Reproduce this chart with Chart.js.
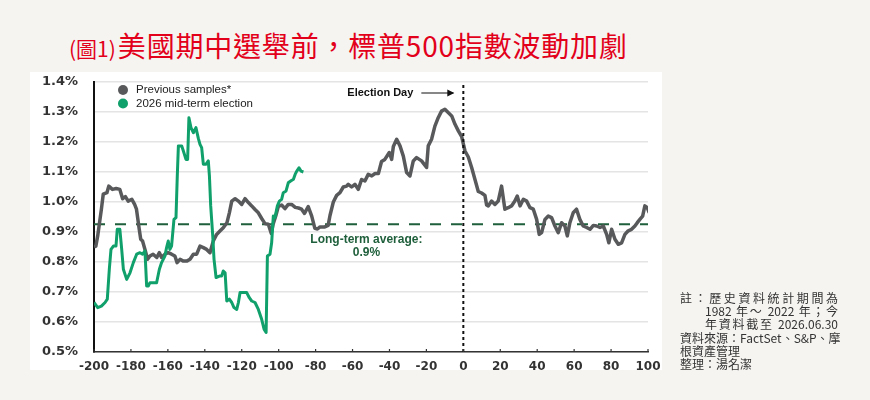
<!DOCTYPE html>
<html>
<head>
<meta charset="utf-8">
<script src="https://cdn.jsdelivr.net/npm/chart.js@4.4.1/dist/chart.umd.min.js"></script>
<style>
  body { margin: 0; width: 870px; height: 400px; background: #f5f4f1; position: relative; overflow: hidden; font-family: "Noto Sans CJK TC", sans-serif; }
  #panel { position: absolute; left: 30px; top: 72px; width: 632px; height: 298px; background: #fff; }
  #title { position: absolute; left: 69px; top: 25px; color: #e2001a; font-size: 28px; line-height: 40px; letter-spacing: 0.8px; white-space: nowrap; }
  #title small { font-size: 21px; letter-spacing: 0; margin-right: 2px; }
  #chart { position: absolute; left: 0; top: 0; }
  #notes { position: absolute; left: 680px; top: 291px; width: 158px; font-size: 12px; line-height: 13.2px; color: #333; }
  #notes div { text-align: justify; text-align-last: justify; white-space: nowrap; }
  #notes .ind { padding-left: 25px; }
  #notes .l { text-align-last: left; }
</style>
</head>
<body>
<div id="panel"></div>
<div id="title"><small>(圖1)</small>美國期中選舉前，標普500指數波動加劇</div>
<canvas id="chart" width="870" height="400"></canvas>
<div id="notes">
  <div>註：歷史資料統計期間為</div>
  <div class="ind">1982 年～ 2022 年；今</div>
  <div class="ind">年資料截至 2026.06.30</div>
  <div>資料來源：FactSet、S&amp;P、摩</div>
  <div class="l">根資產管理</div>
  <div class="l">整理：湯名潔</div>
</div>
<script>
// days relative to election day and daily volatility (%)
const prevDays = [-200, -199, -198, -196, -195, -193, -192, -190, -188, -186, -184.5, -183, -181.5, -179.5, -178, -177,
  -175.5, -174.7, -173.7, -172.4, -171, -169.7, -168, -166, -164.6, -163.4, -161.6, -159.8, -158, -156.2, -155, -153.4,
  -151.6, -149.8, -148, -146.2, -144.4, -142.6, -140.8, -139, -137.2, -135.4, -133.6, -131.8, -130, -128, -126.7, -125.4,
  -123.6, -121.8, -120, -118.2, -116.4, -114.6, -112.8, -111, -109.2, -107.4, -105.6, -104, -103, -101.5, -100.2, -98.4,
  -96.6, -94.8, -93, -91, -89.3, -87.6, -86, -84, -82.1, -80.4, -79, -77.6, -75, -73.2, -72.2, -70.4, -68.6, -66.8, -65,
  -63.2, -62.3, -60.5, -58.7, -56.9, -55.1, -53.3, -51.5, -49.6, -47.8, -46, -44.3, -42.5, -40.1, -38.8, -37.9, -36.1,
  -34.3, -32.5, -30.7, -28.9, -27.1, -25.3, -22.6, -19.9, -19, -17.2, -15.4, -13.6, -11.8, -10, -8.2, -6.3, -4.5, -2.7,
  -0.9, 0.9, 2.7, 4.5, 6.3, 8.1, 9.9, 11.7, 12.6, 13.5, 15.3, 17.1, 18.9, 20.7, 22.5, 24.3, 26.1, 27.9, 29.2, 30.7, 32.5,
  34.3, 36.1, 37.9, 39.7, 41.1, 42.4, 44.2, 46, 47.8, 49.6, 51.4, 53.2, 55, 56.3, 57.7, 59.5, 61.3, 63.1, 64.9, 66.8, 68.6,
  70.4, 72.2, 74, 75.8, 77.6, 78.8, 80.3, 82.1, 83.9, 85.7, 87.5, 89.3, 91.1, 92.9, 94.2, 95.6, 97.1, 98.3, 99.6, 100.7];
const prevValues = [0.850, 0.853, 0.887, 0.976, 1.026, 1.031, 1.053, 1.042, 1.045, 1.042, 1.011, 1.018, 1.003, 1.009, 0.992, 0.976,
  0.909, 0.876, 0.870, 0.842, 0.809, 0.820, 0.826, 0.815, 0.831, 0.815, 0.826, 0.831, 0.826, 0.820, 0.798, 0.809,
  0.803, 0.803, 0.809, 0.826, 0.826, 0.853, 0.848, 0.842, 0.831, 0.870, 0.892, 0.903, 0.914, 0.931, 0.964, 1.003,
  1.011, 1.003, 0.992, 1.011, 0.998, 0.987, 0.975, 0.964, 0.945, 0.928, 0.926, 0.895, 0.926, 0.955, 0.985, 0.990,
  0.978, 0.992, 0.992, 0.982, 0.980, 0.976, 0.962, 0.985, 0.953, 0.912, 0.910, 0.917, 0.917, 0.922, 0.955, 1.000, 1.022, 1.031, 1.050,
  1.053, 1.059, 1.050, 1.059, 1.042, 1.075, 1.070, 1.092, 1.087, 1.095, 1.095, 1.135, 1.142, 1.165, 1.142, 1.185, 1.209,
  1.187, 1.153, 1.098, 1.087, 1.137, 1.148, 1.137, 1.115, 1.187, 1.209, 1.253, 1.281, 1.303, 1.309, 1.298, 1.287, 1.259, 1.237,
  1.218, 1.170, 1.150, 1.115, 1.075, 1.035, 1.030, 1.022, 0.990, 0.987, 1.003, 0.992, 1.003, 1.053, 0.976, 0.981, 0.987, 1.003, 1.020, 0.987, 1.009,
  1.003, 0.981, 0.976, 0.942, 0.892, 0.898, 0.942, 0.953, 0.948, 0.920, 0.898, 0.931, 0.920, 0.887, 0.931, 0.964, 0.976, 0.942, 0.920, 0.915, 0.909,
  0.922, 0.920, 0.915, 0.920, 0.892, 0.864, 0.909, 0.876, 0.859, 0.864, 0.892, 0.904, 0.909, 0.920, 0.931, 0.942, 0.953, 0.987, 0.981, 0.964];

const days2026 = [-200, -198, -196, -194, -192.8, -191.7, -190.8, -189.5, -188.1, -187.4, -186, -185, -184.1, -182.3, -180.5,
  -178.7, -176.9, -175.1, -173.7, -172.4, -171.5, -170.6, -169.7, -166.1, -164.6, -163.4, -161.6, -160.7, -159.8, -158.9,
  -158, -156.7, -155.6, -154.9, -154.3, -152.5, -151.6, -150.2, -149.3, -148.6, -147.5, -146.2, -144.8, -143.5, -142.6,
  -141.7, -140.8, -139.3, -138.1, -137.5, -136.8, -135.7, -135, -133.9, -132.1, -130.9, -130, -129, -128.1, -126.7, -125.4,
  -124.2, -122.7, -121.8, -120.9, -117.3, -115.9, -114.6, -112.8, -111, -109.2, -107.9, -106.8, -106.1, -104.7, -103.8,
  -102.9, -102, -100.7, -99.6, -98.4, -97.5, -96, -94.8, -93.5, -92, -91.1, -90.2, -89, -87.9, -86.6];
const values2026 = [0.665, 0.648, 0.653, 0.665, 0.676, 0.776, 0.842, 0.853, 0.853, 0.909, 0.909, 0.842, 0.776, 0.742, 0.764,
  0.798, 0.826, 0.831, 0.826, 0.837, 0.720, 0.720, 0.731, 0.731, 0.776, 0.798, 0.820, 0.848, 0.870, 0.842,
  0.853, 0.942, 0.948, 1.087, 1.187, 1.187, 1.170, 1.142, 1.142, 1.281, 1.248, 1.231, 1.248, 1.212, 1.192,
  1.181, 1.126, 1.126, 1.137, 1.087, 0.987, 0.887, 0.809, 0.748, 0.753, 0.753, 0.770, 0.764, 0.670, 0.676, 0.665,
  0.648, 0.642, 0.665, 0.698, 0.698, 0.681, 0.670, 0.665, 0.642, 0.609, 0.576, 0.565, 0.820, 0.826, 0.864,
  0.953, 0.948, 0.987, 1.003, 1.009, 1.031, 1.037, 1.064, 1.070, 1.076, 1.092, 1.103, 1.114, 1.103, 1.100];

const avgDays = [-200, 100];
const avgValues = [0.926, 0.926];
const electionDays = [0, 0];
const electionValues = [0.5, 1.4];

const xTicks = [-200, -180, -160, -140, -120, -100, -80, -60, -40, -20, 0, 20, 40, 60, 80, 100];

const GREY = '#58595b';
const GREEN = '#10a06b';
const DARK_GREEN = '#1f5f3b';

const toPoints = (xs, ys) => xs.map((d, i) => ({ x: d, y: ys[i] }));

const overlay = {
  id: 'overlay',
  afterDraw(chart) {
    const { ctx, chartArea: area, scales: { x, y } } = chart;
    ctx.save();

    // small tick marks above the x axis
    ctx.strokeStyle = '#333';
    ctx.lineWidth = 1.2;
    xTicks.forEach(t => {
      const px = x.getPixelForValue(t);
      ctx.beginPath();
      ctx.moveTo(px, area.bottom);
      ctx.lineTo(px, area.bottom - 3);
      ctx.stroke();
    });

    // legend
    ctx.font = '11.5px "Liberation Sans", Arial, sans-serif';
    ctx.textBaseline = 'middle';
    ctx.textAlign = 'left';
    [[GREY, 'Previous samples*', 8], [GREEN, '2026 mid-term election', 21.5]].forEach(([c, label, dy]) => {
      ctx.fillStyle = c;
      ctx.beginPath();
      ctx.arc(area.left + 29, area.top + dy, 5, 0, Math.PI * 2);
      ctx.fill();
      ctx.fillStyle = '#222';
      ctx.fillText(label, area.left + 42, area.top + dy);
    });

    // election day label + arrow
    const x0 = x.getPixelForValue(0);
    const ey = area.top + 11;
    ctx.font = 'bold 11px "Liberation Sans", Arial, sans-serif';
    ctx.textAlign = 'right';
    ctx.fillStyle = '#111';
    ctx.fillText('Election Day', x0 - 50, ey);
    ctx.strokeStyle = '#111';
    ctx.lineWidth = 1.2;
    ctx.beginPath();
    ctx.moveTo(x0 - 42, ey);
    ctx.lineTo(x0 - 10, ey);
    ctx.stroke();
    ctx.beginPath();
    ctx.moveTo(x0 - 9, ey);
    ctx.lineTo(x0 - 16, ey - 3.5);
    ctx.lineTo(x0 - 16, ey + 3.5);
    ctx.closePath();
    ctx.fillStyle = '#111';
    ctx.fill();

    // long-term average label
    const lx = x.getPixelForValue(-52.5);
    const ly = y.getPixelForValue(avgValues[0]);
    ctx.font = 'bold 12px "Liberation Sans", Arial, sans-serif';
    ctx.textAlign = 'center';
    ctx.fillStyle = DARK_GREEN;
    ctx.fillText('Long-term average:', lx, ly + 15);
    ctx.fillText('0.9%', lx, ly + 28);

    ctx.restore();
  }
};

new Chart(document.getElementById('chart'), {
  type: 'line',
  data: {
    datasets: [
      {
        label: 'Election Day',
        data: toPoints(electionDays, electionValues),
        borderColor: '#111',
        borderWidth: 2,
        borderDash: [3, 3],
        pointRadius: 0,
        order: -1
      },
      {
        label: '2026 mid-term election',
        data: toPoints(days2026, values2026),
        borderColor: GREEN,
        borderWidth: 3,
        pointRadius: 0,
        tension: 0,
        borderJoinStyle: 'round',
        order: 0
      },
      {
        label: 'Previous samples*',
        data: toPoints(prevDays, prevValues),
        borderColor: GREY,
        borderWidth: 3.5,
        pointRadius: 0,
        tension: 0,
        borderJoinStyle: 'round',
        order: 1
      },
      {
        label: 'Long-term average',
        data: toPoints(avgDays, avgValues),
        borderColor: DARK_GREEN,
        borderWidth: 2,
        borderDash: [11, 10],
        pointRadius: 0,
        order: 2
      }
    ]
  },
  options: {
    responsive: false,
    animation: false,
    layout: { padding: { left: 30, right: 222, top: 82, bottom: 17 } },
    plugins: {
      legend: { display: false },
      tooltip: { enabled: false }
    },
    scales: {
      x: {
        type: 'linear',
        min: -200,
        max: 100,
        afterFit: s => { s.height = 31; },
        afterBuildTicks: s => { s.ticks = xTicks.map(v => ({ value: v })); },
        ticks: {
          autoSkip: false,
          maxRotation: 0,
          padding: 0,
          color: '#333',
          font: { family: '"DejaVu Sans", sans-serif', size: 12, weight: 'bold' }
        },
        grid: { display: false },
        border: { display: true, color: '#333', width: 1.5 }
      },
      y: {
        min: 0.5,
        max: 1.4,
        afterFit: s => { s.width = 64; },
        ticks: {
          stepSize: 0.1,
          padding: 16,
          color: '#333',
          font: { family: '"DejaVu Sans", sans-serif', size: 13, weight: 'bold' },
          callback: v => v.toFixed(1) + '%'
        },
        grid: { color: '#e4e4e4', lineWidth: 1.5, drawTicks: false },
        border: { display: true, color: '#111', width: 2 }
      }
    }
  },
  plugins: [overlay]
});
</script>
</body>
</html>
